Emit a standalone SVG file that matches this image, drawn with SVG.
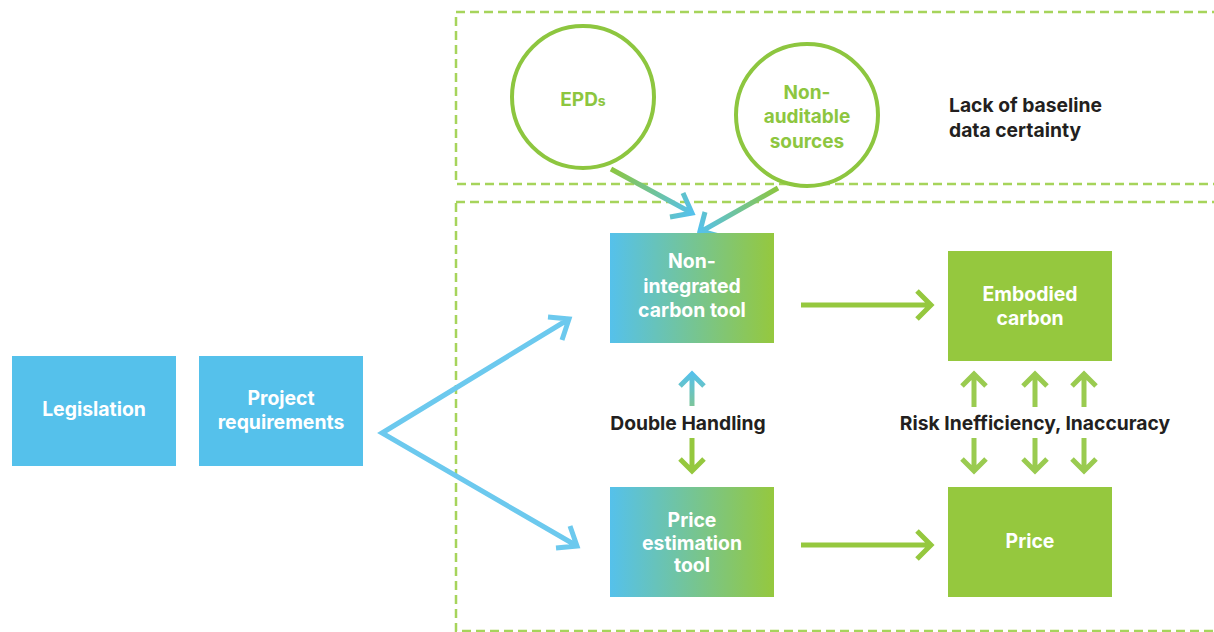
<svg xmlns="http://www.w3.org/2000/svg" width="1214" height="632" viewBox="0 0 1214 632">
<style>
.dash{fill:none;stroke:#A6D45B;stroke-width:2.5;stroke-dasharray:9 5}
.circ{fill:#fff;stroke:#8DC63F;stroke-width:4}
.ctxt{font-family:Inter,"Liberation Sans",sans-serif;font-weight:700;font-size:19px;fill:#8DC63F;text-anchor:middle}
.ntxt{font-family:Inter,"Liberation Sans",sans-serif;font-weight:700;font-size:19.4px;fill:#fff;text-anchor:middle}
.ltxt{font-family:Inter,"Liberation Sans",sans-serif;font-weight:700;font-size:19.3px;fill:#231F20}
.blue{fill:#55C1EB}
.green{fill:#95C83E}
.arr{fill:none;stroke-width:5;stroke-linejoin:miter;stroke-linecap:butt}
.g{stroke:#95C83E}
.lg{stroke:#9ACB50}
.b{stroke:#6CC9EE}
</style>
<defs>
<linearGradient id="bg" x1="0" y1="0" x2="1" y2="0">
<stop offset="0" stop-color="#55C1EB"/>
<stop offset="1" stop-color="#95C83E"/>
</linearGradient>
<linearGradient id="a1" gradientUnits="userSpaceOnUse" x1="611" y1="169" x2="692" y2="213">
<stop offset="0" stop-color="#8DC63F"/>
<stop offset="1" stop-color="#55C1EB"/>
</linearGradient>
<linearGradient id="a2" gradientUnits="userSpaceOnUse" x1="778" y1="188" x2="700" y2="232">
<stop offset="0" stop-color="#8DC63F"/>
<stop offset="1" stop-color="#55C1EB"/>
</linearGradient>
<linearGradient id="a3" gradientUnits="userSpaceOnUse" x1="0" y1="373" x2="0" y2="405">
<stop offset="0" stop-color="#55C1EB"/>
<stop offset="1" stop-color="#7CC59D"/>
</linearGradient>
</defs>

<g id="frames">
<rect class="dash" x="456" y="12" width="780" height="172"/>
<rect class="dash" x="456" y="202" width="780" height="429"/>
</g>

<g id="connectors">
<path class="arr" stroke="url(#a1)" d="M611 169 L690 212 M670 217 L692 213 L683 193"/>
<path class="arr" stroke="url(#a2)" d="M778 188 L702 231 M705 212 L700 231 L719 236"/>
<path class="arr b" d="M569 319 L382 433 L577 546 M548 317 L569 319 L562 340 M556 548 L577 546 L570 526"/>
<path class="arr g" d="M801 305 L930 305 M917 291 L931 305 L917 319"/>
<path class="arr g" d="M801 545 L930 545 M917 531 L931 545 L917 559"/>
<path class="arr" stroke="url(#a3)" d="M692 406 L692 376 M680 386 L692 374 L704 386"/>
<path class="arr g" d="M692 438 L692 469 M680 459 L692 471 L704 459"/>
<path class="arr lg" d="M974 407 L974 376 M962 386 L974 374 L986 386"/>
<path class="arr lg" d="M1035 407 L1035 376 M1023 386 L1035 374 L1047 386"/>
<path class="arr lg" d="M1084 407 L1084 376 M1072 386 L1084 374 L1096 386"/>
<path class="arr lg" d="M974 438 L974 469 M962 459 L974 471 L986 459"/>
<path class="arr lg" d="M1035 438 L1035 469 M1023 459 L1035 471 L1047 459"/>
<path class="arr lg" d="M1084 438 L1084 469 M1072 459 L1084 471 L1096 459"/>
</g>

<g id="epds">
<circle class="circ" cx="583" cy="97" r="71"/>
<text class="ctxt" x="583" y="106">EPD<tspan font-size="14">s</tspan></text>
</g>
<g id="non-auditable">
<circle class="circ" cx="807" cy="115" r="71"/>
<text class="ctxt" x="807" y="99">Non-</text>
<text class="ctxt" x="807" y="123">auditable</text>
<text class="ctxt" x="807" y="148">sources</text>
</g>
<g id="lack-label">
<text class="ltxt" x="949" y="112">Lack of baseline</text>
<text class="ltxt" x="949" y="137">data certainty</text>
</g>

<g id="legislation">
<rect class="blue" x="12" y="356" width="164" height="110"/>
<text class="ntxt" x="94" y="416">Legislation</text>
</g>
<g id="project-requirements">
<rect class="blue" x="199" y="356" width="164" height="110"/>
<text class="ntxt" x="281" y="405">Project</text>
<text class="ntxt" x="281" y="429">requirements</text>
</g>

<g id="carbon-tool">
<rect fill="url(#bg)" x="610" y="233" width="164" height="110"/>
<text class="ntxt" x="692" y="268">Non-</text>
<text class="ntxt" x="692" y="293">integrated</text>
<text class="ntxt" x="692" y="317">carbon tool</text>
</g>
<g id="price-tool">
<rect fill="url(#bg)" x="610" y="487" width="164" height="110"/>
<text class="ntxt" x="692" y="527" font-size="18.8">Price</text>
<text class="ntxt" x="692" y="550" font-size="18.8">estimation</text>
<text class="ntxt" x="692" y="572" font-size="18.8">tool</text>
</g>
<g id="embodied-carbon">
<rect class="green" x="948" y="251" width="164" height="110"/>
<text class="ntxt" x="1030" y="301">Embodied</text>
<text class="ntxt" x="1030" y="325">carbon</text>
</g>
<g id="price">
<rect class="green" x="948" y="487" width="164" height="110"/>
<text class="ntxt" x="1030" y="548">Price</text>
</g>

<g id="labels">
<text class="ltxt" x="688" y="430" text-anchor="middle">Double Handling</text>
<text class="ltxt" x="1035" y="430" text-anchor="middle">Risk Inefficiency, Inaccuracy</text>
</g>
</svg>
